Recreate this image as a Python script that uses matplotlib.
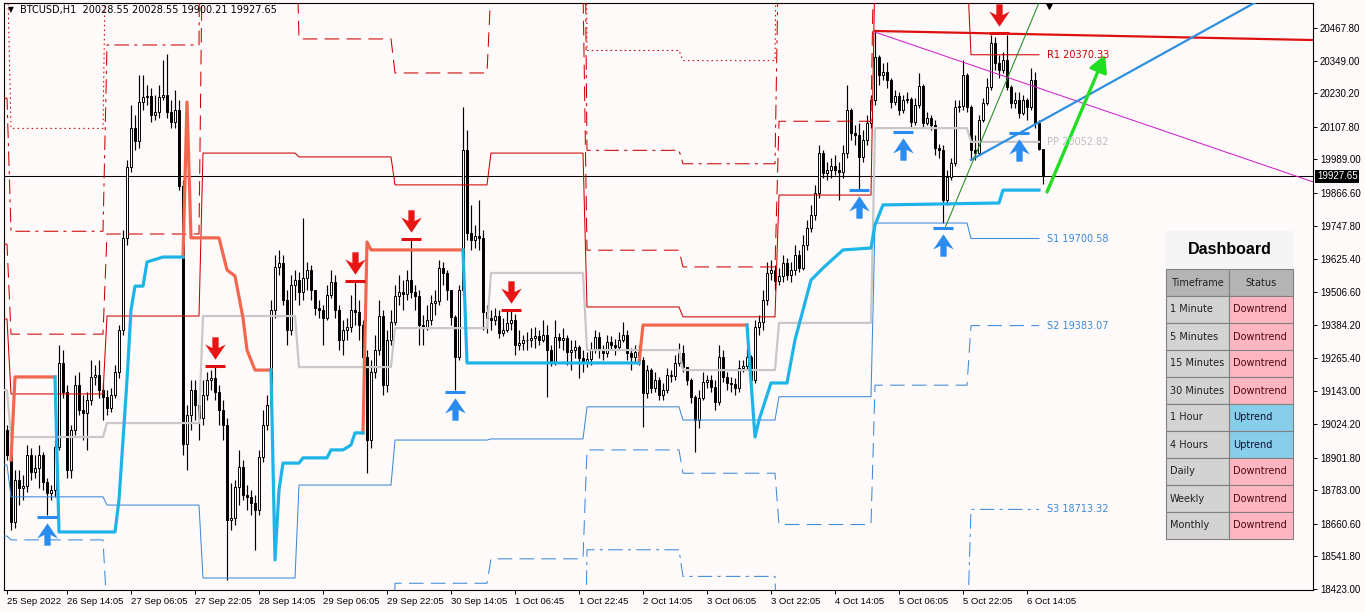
import matplotlib
matplotlib.use("Agg")
import matplotlib.pyplot as plt
import matplotlib.transforms as mtransforms
from matplotlib.path import Path
from matplotlib.patches import Rectangle
import numpy as np

BG = "#FFFAFA"

# ---- BTCUSD H1 candles (open of each bar = close of the bar before) ----
first_open = 19003
closes = [
    18912, 18667, 18820, 18791, 18799, 18912, 18850, 18864, 18912, 18813,
    18773, 18784, 18941, 19247, 19141, 18857, 19003, 19167, 19076, 19065,
    19112, 19196, 19203, 19148, 19123, 19083, 19130, 19214, 19367, 19703,
    19961, 20103, 20056, 20198, 20216, 20220, 20151, 20162, 20216, 20224,
    20162, 20125, 20169, 19892, 18952, 19057, 19148, 19094, 19046, 19130,
    19185, 19192, 19141, 19076, 19021, 18675, 18682, 18795, 18868, 18766,
    18758, 18737, 18711, 18904, 19021, 19094, 19440, 19597, 19611, 19476,
    19367, 19531, 19549, 19506, 19557, 19586, 19513, 19447, 19440, 19411,
    19495, 19542, 19440, 19331, 19367, 19378, 19440, 19433, 19385, 19269,
    18966, 19214, 19294, 19418, 19167, 19331, 19396, 19491, 19506, 19498,
    19549, 19506, 19491, 19385, 19374, 19404, 19466, 19473, 19593, 19575,
    19513, 19414, 19269, 19513, 20023, 19721, 19695, 19710, 19703, 19433,
    19411, 19404, 19418, 19356, 19367, 19393, 19404, 19312, 19320, 19331,
    19331, 19338, 19345, 19331, 19349, 19294, 19251, 19342, 19331, 19338,
    19287, 19294, 19305, 19265, 19251, 19261, 19294, 19342, 19294, 19283,
    19323, 19312, 19305, 19331, 19349, 19283, 19269, 19287, 19258, 19138,
    19221, 19156, 19185, 19130, 19148, 19203, 19199, 19247, 19283, 19232,
    19185, 19123, 19039, 19119, 19178, 19185, 19159, 19105, 19269, 19196,
    19174, 19170, 19156, 19229, 19236, 19269, 19185, 19378, 19396, 19476,
    19575, 19586, 19546, 19564, 19611, 19568, 19586, 19641, 19593, 19677,
    19739, 19786, 19867, 20012, 19939, 19950, 19965, 19950, 19943, 20012,
    20169, 20085, 20078, 19998, 20060, 20122, 20205, 20362, 20297, 20308,
    20278, 20198, 20220, 20169, 20205, 20209, 20125, 20187, 20257, 20122,
    20140, 20114, 20031, 20023, 19841, 19925, 19976, 20180, 20184, 20297,
    20180, 20023, 20012, 20133, 20195, 20253, 20413, 20340, 20315, 20351,
    20253, 20195, 20205, 20158, 20205, 20180, 20278, 20122, 20028.55, 19927.65,
]
highs = [
    19021, 18922, 18857, 18857, 18839, 18948, 18937, 18912, 18948, 18922,
    18828, 18802, 18966, 19312, 19294, 19167, 19021, 19203, 19214, 19130,
    19141, 19258, 19240, 19258, 19174, 19148, 19156, 19240, 19385, 19732,
    19987, 20187, 20151, 20297, 20297, 20260, 20249, 20224, 20260, 20351,
    20373, 20205, 20242, 20205, 19914, 19094, 19185, 19185, 19119, 19185,
    19214, 19221, 19236, 19167, 19112, 19046, 18810, 18820, 18930, 18893,
    18802, 18784, 18766, 18930, 19076, 19130, 19476, 19641, 19659, 19641,
    19513, 19568, 19586, 19579, 19775, 19615, 19604, 19513, 19476, 19458,
    19531, 19586, 19568, 19458, 19404, 19411, 19495, 19542, 19476, 19404,
    19294, 19258, 19349, 19476, 19440, 19367, 19440, 19531, 19568, 19549,
    19586, 19699, 19531, 19513, 19422, 19458, 19495, 19513, 19622, 19615,
    19586, 19513, 19422, 19531, 20180, 20096, 19823, 19750, 19841, 19732,
    19458, 19440, 19447, 19440, 19411, 19440, 19440, 19425, 19367, 19349,
    19360, 19374, 19378, 19367, 19404, 19385, 19312, 19404, 19356, 19374,
    19349, 19331, 19331, 19312, 19294, 19287, 19323, 19367, 19360, 19312,
    19349, 19345, 19334, 19360, 19396, 19367, 19302, 19312, 19312, 19269,
    19240, 19229, 19214, 19196, 19174, 19229, 19221, 19276, 19320, 19312,
    19229, 19192, 19130, 19148, 19214, 19203, 19203, 19185, 19312, 19294,
    19214, 19196, 19192, 19258, 19258, 19302, 19276, 19404, 19422, 19513,
    19615, 19622, 19604, 19593, 19641, 19630, 19615, 19677, 19659, 19713,
    19768, 19823, 19896, 20041, 20023, 19980, 19994, 20005, 19980, 20041,
    20260, 20176, 20114, 20122, 20096, 20151, 20224, 20453, 20370, 20340,
    20344, 20286, 20242, 20235, 20224, 20235, 20216, 20213, 20304, 20264,
    20162, 20151, 20133, 20045, 20041, 19950, 19994, 20205, 20205, 20351,
    20304, 20187, 20078, 20151, 20213, 20286, 20442, 20435, 20370, 20380,
    20442, 20260, 20235, 20235, 20224, 20213, 20322, 20308, 20133, 20028.55,
]
lows = [
    18893, 18638, 18645, 18729, 18747, 18777, 18820, 18828, 18791, 18784,
    18693, 18747, 18758, 18930, 19119, 18828, 18828, 18984, 19057, 18966,
    18930, 19094, 19167, 19119, 19039, 19057, 19068, 19119, 19192, 19349,
    19677, 19943, 20023, 20031, 20169, 20187, 20125, 20133, 20140, 20205,
    20140, 20103, 20103, 19877, 18912, 18857, 19003, 19039, 18966, 19021,
    19112, 19148, 19112, 19021, 18966, 18456, 18638, 18656, 18729, 18747,
    18711, 18693, 18565, 18693, 18886, 19003, 19057, 19411, 19568, 19458,
    19312, 19349, 19476, 19458, 19476, 19513, 19476, 19422, 19411, 19312,
    19404, 19484, 19411, 19294, 19276, 19331, 19360, 19385, 19331, 19240,
    18846, 18937, 19192, 19276, 19130, 19141, 19312, 19385, 19458, 19440,
    19476, 19484, 19440, 19312, 19312, 19367, 19385, 19422, 19458, 19531,
    19476, 19385, 19148, 19258, 19495, 19695, 19659, 19666, 19659, 19367,
    19356, 19367, 19385, 19338, 19345, 19360, 19367, 19276, 19294, 19294,
    19294, 19305, 19302, 19312, 19323, 19123, 19236, 19240, 19302, 19294,
    19240, 19221, 19265, 19192, 19214, 19232, 19240, 19283, 19265, 19258,
    19269, 19294, 19276, 19294, 19323, 19258, 19221, 19251, 19240, 19014,
    19119, 19138, 19141, 19112, 19112, 19138, 19178, 19185, 19236, 19214,
    19167, 19101, 18922, 19010, 19112, 19156, 19141, 19076, 19094, 19178,
    19148, 19141, 19130, 19141, 19214, 19221, 19130, 19174, 19349, 19367,
    19458, 19549, 19513, 19531, 19542, 19549, 19542, 19568, 19579, 19586,
    19659, 19724, 19768, 19848, 19921, 19914, 19921, 19932, 19841, 19921,
    19994, 20060, 20041, 19877, 19980, 20041, 20103, 20187, 20260, 20278,
    20249, 20176, 20187, 20151, 20158, 20195, 20103, 20114, 20176, 20103,
    20114, 20096, 20005, 19994, 19757, 19823, 19914, 19965, 20162, 20169,
    20162, 19987, 19987, 20005, 20125, 20187, 20242, 20315, 20286, 20304,
    20242, 20176, 20176, 20140, 20151, 20133, 20169, 20103, 20023, 19900.21,
]
last_price = 19927.65

tick_bars = [0, 15, 31, 47, 63, 79, 95, 111, 127, 143, 159, 175, 191, 207, 223, 239, 255]
tick_labels = ["25 Sep 2022", "26 Sep 14:05", "27 Sep 06:05", "27 Sep 22:05", "28 Sep 14:05",
               "29 Sep 06:05", "29 Sep 22:05", "30 Sep 14:05", "1 Oct 06:45", "1 Oct 22:45",
               "2 Oct 14:05", "3 Oct 06:05", "3 Oct 22:05", "4 Oct 14:05", "5 Oct 06:05",
               "5 Oct 22:05", "6 Oct 14:05"]
price_ticks = [20467.80, 20349.00, 20230.20, 20107.80, 19989.00, 19866.60, 19747.80, 19625.40,
               19506.60, 19384.20, 19265.40, 19143.00, 19024.20, 18901.80, 18783.00, 18660.60,
               18541.80, 18423.00]

# ---- daily pivot levels ----
day_starts = [0, 1, 25, 49, 73, 97, 121, 145, 169, 193, 217, 241]
pp = [19148, 18977, 19028, 19418, 19232, 19374, 19575, 19294, 19221, 19393, 20103, 20052.82]
r1 = [19407, 19134, 19418, 20012, 19998, 19896, 20012, 19451, 19415, 19859, 20694, 20370.33]
r2 = [19680, 19352, 19717, 20967, 20428, 20304, 20617, 19658, 19597, 20128, 21040, 20722.57]
r3 = [20212, 19727, 20406, 22516, 21624, 21234, 21659, 20022, 19973, 20863, 21977, 21392.32]
r4 = [20744, 20102, 21095, 24065, 22820, 22164, 22701, 20386, 20349, 21598, 22914, 22062.00]
s1 = [18875, 18759, 18729, 18463, 18802, 18966, 18970, 19087, 19039, 19124, 19757, 19700.58]
s2 = [18616, 18602, 18339, 17869, 18036, 18444, 18533, 18930, 18845, 18658, 19166, 19383.07]
s3 = [18084, 18227, 17650, 16320, 16840, 17514, 17491, 18566, 18469, 17923, 18229, 18713.32]
s4 = [17552, 17852, 16961, 14771, 15644, 16584, 16449, 18202, 18093, 17188, 17292, 18043.57]
pivot_end_bar = 258

# ---- trailing support / resistance line (bar, price) ----
resist_segments = [
    ([1, 2, 12], [18893, 19196, 19196]),
    ([44, 45, 46, 53, 55, 57, 59, 60, 62, 66],
     [19633, 20198, 19703, 19703, 19586, 19564, 19411, 19294, 19221, 19221]),
    ([89, 90, 91, 114], [18992, 19688, 19659, 19659]),
    ([158, 159, 185], [19247, 19385, 19385]),
]
support_segments = [
    ([12, 13, 27, 28, 29, 30, 31, 32, 34, 35, 39, 44],
     [19196, 18631, 18631, 18748, 18966, 19185, 19440, 19527, 19527, 19615, 19633, 19633]),
    ([66, 67, 68, 69, 73, 74, 80, 81, 84, 86, 87, 89],
     [19221, 18529, 18784, 18882, 18882, 18901, 18901, 18930, 18930, 18948, 18992, 18992]),
    ([114, 115, 158], [19659, 19247, 19247]),
    ([185, 187, 188, 191, 195, 197, 201, 204, 209, 216, 217, 219, 248, 249, 258],
     [19385, 18977, 19039, 19174, 19174, 19331, 19549, 19593, 19659, 19666, 19750, 19823,
      19830, 19877, 19877]),
]

# ---- signals ----
sell_bars = [52, 87, 101, 126, 248]
sell_prices = [19236, 19546, 19699, 19440, 20449]
buy_bars = [10, 112, 213, 224, 234, 253]
buy_prices = [18686, 19141, 19877, 20089, 19739, 20085]

# ---- hand drawn objects ----
red_line = ([217, 326.5], [20457, 20424])
magenta_line = ([217, 326.5], [20453, 19907])
blue_trend = ([241, 320], [19987, 20625])
green_thin = ([234.5, 262], [19739, 20700])
green_arrow = ([260, 274.5], [19870, 20370])

timeframes = ["1 Minute", "5 Minutes", "15 Minutes", "30 Minutes", "1 Hour", "4 Hours",
              "Daily", "Weekly", "Monthly"]
statuses = ["Downtrend", "Downtrend", "Downtrend", "Downtrend", "Uptrend", "Uptrend",
            "Downtrend", "Downtrend", "Downtrend"]

# ------------------------------------------------------------------
fig = plt.figure(figsize=(13.65, 6.12), dpi=100, facecolor=BG)
ax = fig.add_axes([4 / 1365, 22 / 612, 1309 / 1365, 587 / 612], facecolor=BG)
ax.set_xlim(-0.75, 326.5)
ax.set_ylim(18419.4, 20559)

closes = np.array(closes, dtype=float)
opens = np.concatenate([[first_open], closes[:-1]])
highs = np.maximum.reduce([np.array(highs, dtype=float), opens, closes])
lows = np.minimum.reduce([np.array(lows, dtype=float), opens, closes])
xb = np.arange(len(closes))
up = closes >= opens

ax.vlines(xb, lows, highs, color="black", lw=0.85, zorder=2)
ax.bar(xb[up], (closes - opens)[up], bottom=opens[up], width=0.62,
       facecolor="white", edgecolor="black", lw=0.7, zorder=2.5)
ax.bar(xb[~up], (opens - closes)[~up], bottom=closes[~up], width=0.62,
       facecolor="black", edgecolor="black", lw=0.7, zorder=2.5)

# pivot step lines
lb = np.arange(0, pivot_end_bar + 1)
day_idx = np.searchsorted(day_starts, lb, side="right") - 1
lb = np.concatenate([[-0.75], lb])
day_idx = np.concatenate([[0], day_idx])
RED, BLUE = "#CC0000", "#3A8AD8"
dash = (0, (14, 7))
dashdot = (0, (14, 5, 3, 5))
dot = (0, (1.5, 3))
for lev, col, ls in [(r1, RED, "-"), (r2, RED, dash), (r3, RED, dashdot), (r4, RED, dot),
                     (s1, BLUE, "-"), (s2, BLUE, dash), (s3, BLUE, dashdot), (s4, BLUE, dot)]:
    ax.plot(lb, np.array(lev)[day_idx], color=col, lw=0.75, ls=ls, zorder=3)
ax.plot(lb, np.array(pp)[day_idx], color="#C8C8C8", lw=1.6, zorder=3)

for txt, val, col in [("R1", r1[-1], RED), ("PP", pp[-1], "#BEBEBE"), ("S1", s1[-1], BLUE),
                      ("S2", s2[-1], BLUE), ("S3", s3[-1], BLUE)]:
    ax.text(260, val, f"{txt} {val:.2f}", color=col, fontsize=7, va="center", ha="left",
            family="DejaVu Sans", zorder=6)

# trailing line
for bx, by in resist_segments:
    ax.plot(bx, by, color="#F2684E", lw=2.3, solid_joinstyle="round", zorder=4)
for bx, by in support_segments:
    ax.plot(bx, by, color="#1DB4E8", lw=2.3, solid_joinstyle="round", zorder=4)

# drawn lines
ax.axhline(last_price, color="black", lw=0.75, zorder=1.5)
ax.plot(*red_line, color="#DD1010", lw=1.6, zorder=3.5)
ax.plot(*magenta_line, color="#CC22CC", lw=0.75, zorder=3.5)
ax.plot(*blue_trend, color="#2E8FE0", lw=1.6, zorder=3.5)
ax.plot(*green_thin, color="#1E8C1E", lw=0.75, zorder=3.5)
ax.annotate("", xy=(green_arrow[0][1], green_arrow[1][1]),
            xytext=(green_arrow[0][0], green_arrow[1][0]),
            arrowprops=dict(arrowstyle="-|>,head_length=1.0,head_width=0.55", color="#22DD22",
                            lw=2.4, shrinkA=0, shrinkB=0, mutation_scale=10), zorder=5)
ax.scatter([260.5], [20556], marker="v", s=45, color="black", zorder=6)

# signal arrows
down_arrow = Path([(-0.14, 0.5), (0.14, 0.5), (0.14, 0.02), (0.46, 0.18), (0, -0.5),
                   (-0.46, 0.18), (-0.14, 0.02), (-0.14, 0.5)],
                  [Path.MOVETO] + [Path.LINETO] * 6 + [Path.CLOSEPOLY])
up_arrow = Path([(x, -y) for x, y in down_arrow.vertices], down_arrow.codes)
above = mtransforms.offset_copy(ax.transData, fig=fig, y=13, units="points")
below = mtransforms.offset_copy(ax.transData, fig=fig, y=-12.5, units="points")
ax.hlines(sell_prices, np.array(sell_bars) - 2.5, np.array(sell_bars) + 2.5,
          color="#E01010", lw=2.2, zorder=5)
ax.scatter(sell_bars, sell_prices, marker=down_arrow, s=260, color="#E81515",
           transform=above, zorder=5, linewidths=0)
ax.hlines(buy_prices, np.array(buy_bars) - 2.5, np.array(buy_bars) + 2.5,
          color="#2B8CF0", lw=2.2, zorder=5)
ax.scatter(buy_bars, buy_prices, marker=up_arrow, s=260, color="#2B8CF0",
           transform=below, zorder=5, linewidths=0)

# axes styling
for sp in ax.spines.values():
    sp.set_color("black")
    sp.set_linewidth(0.8)
ax.set_xticks(tick_bars)
ax.set_xticklabels(tick_labels, family="Liberation Sans", fontsize=6.8)
for t in ax.get_xticklabels():
    t.set_horizontalalignment("left")
ax.tick_params(axis="x", length=3, width=0.7, pad=2, direction="out")
ax.yaxis.tick_right()
ax.set_yticks(price_ticks)
ax.set_yticklabels([f"{p:.2f}" for p in price_ticks], family="Liberation Sans", fontsize=7)
ax.tick_params(axis="y", length=3, width=0.7, pad=2, direction="out")

trans = mtransforms.blended_transform_factory(ax.transAxes, ax.transData)
ax.text(1.003, last_price, f"{last_price:.2f}", transform=trans, color="white", fontsize=7,
        family="Liberation Sans", va="center", ha="left", zorder=10, clip_on=False,
        bbox=dict(facecolor="black", edgecolor="none", pad=1.2))

# ---- overlay: title + dashboard (pixel layout) ----
ov = fig.add_axes([0, 0, 1, 1], facecolor="none")
ov.set_xlim(0, 1365)
ov.set_ylim(612, 0)
ov.axis("off")
ov.text(8, 10, "\u25BC", fontsize=5.5, va="center", ha="left", family="DejaVu Sans")
ov.text(20, 10, "BTCUSD,H1  20028.55 20028.55 19900.21 19927.65", fontsize=7,
        va="center", ha="left", family="DejaVu Sans")

x0, xm, x1 = 1166, 1229, 1293
ov.add_patch(Rectangle((x0, 231), x1 - x0, 37, facecolor="#F4F4F4", edgecolor="none"))
ov.text((x0 + x1) / 2, 250, "Dashboard", ha="center", va="center", fontsize=11.5,
        fontweight="bold", family="Liberation Sans")
row_h = 27
ytop = 269
for xa, w, txt in [(x0, xm - x0, "Timeframe"), (xm, x1 - xm, "Status")]:
    ov.add_patch(Rectangle((xa, ytop), w, row_h, facecolor="#B4B4B4", edgecolor="#808080", lw=0.8))
    ov.text(xa + w / 2, ytop + row_h / 2, txt, ha="center", va="center", fontsize=7,
            family="DejaVu Sans", color="#202020")
for i, (tf, st) in enumerate(zip(timeframes, statuses)):
    yy = ytop + row_h * (i + 1)
    ov.add_patch(Rectangle((x0, yy), xm - x0, row_h, facecolor="#D3D3D3", edgecolor="#808080", lw=0.8))
    col = "#87CEEB" if st == "Uptrend" else "#FFB6C1"
    ov.add_patch(Rectangle((xm, yy), x1 - xm, row_h, facecolor=col, edgecolor="#808080", lw=0.8))
    ov.text(x0 + 4, yy + row_h / 2, tf, ha="left", va="center", fontsize=7,
            family="DejaVu Sans", color="#202020")
    ov.text(xm + 4, yy + row_h / 2, st, ha="left", va="center", fontsize=7,
            family="DejaVu Sans", color="#4A0A0A" if st != "Uptrend" else "#101030")

fig.savefig("out.png", dpi=100, facecolor=BG)
